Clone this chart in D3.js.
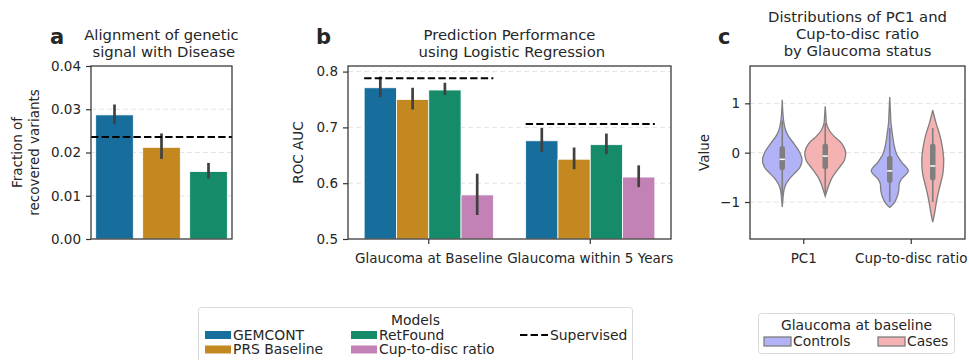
<!DOCTYPE html>
<meta charset="utf-8">
<style>
body { margin: 0; background: #fff; }
svg { font-family: "DejaVu Sans", sans-serif; }
.tick text { fill: #262626; font-size: 13.5px; font-family: "DejaVu Sans", sans-serif; }
.tick line { stroke: #333; stroke-width: 1.2; }
.domain { display: none; }
</style>
<svg width="969" height="360"></svg>
<script src="https://cdn.jsdelivr.net/npm/d3@7"></script>
<script>

// ---- data ----
var models = ["GEMCONT", "PRS Baseline", "RetFound", "Cup-to-disc ratio"];
var modelColors = ["#176e9c", "#c38820", "#168b6a", "#c282b6"];

// panel a: fraction of recovered variants
var alignModels = ["GEMCONT", "PRS Baseline", "RetFound"];
var alignValues = [0.0287, 0.0212, 0.0156];
var alignLow = [0.0265, 0.0185, 0.0140];
var alignHigh = [0.0311, 0.0244, 0.0176];
var alignSupervised = 0.0236;

// panel b: ROC AUC
var tasks = ["Glaucoma at Baseline", "Glaucoma within 5 Years"];
var aucValues = [[0.771, 0.750, 0.767, 0.579], [0.676, 0.643, 0.669, 0.611]];
var aucLow = [[0.754, 0.732, 0.758, 0.543], [0.656, 0.625, 0.652, 0.593]];
var aucHigh = [[0.791, 0.771, 0.780, 0.617], [0.699, 0.664, 0.689, 0.632]];
var aucSupervised = [0.788, 0.706];

// panel c: violin profiles [value, relative density]
var features = ["PC1", "Cup-to-disc ratio"];
var groups = ["Controls", "Cases"];
var groupColors = ["#b2b2f6", "#f4b2b2"];
var violinProfiles = [
  [ // PC1
    [[1.07, 0], [0.8, 0.03], [0.6, 0.08], [0.45, 0.16], [0.32, 0.31], [0.18, 0.55], [0.0, 0.82], [-0.15, 0.92],
     [-0.3, 0.82], [-0.43, 0.55], [-0.55, 0.3], [-0.65, 0.16], [-0.76, 0.08], [-0.9, 0.04], [-1.1, 0]],
    [[0.94, 0], [0.75, 0.03], [0.59, 0.06], [0.45, 0.19], [0.32, 0.44], [0.18, 0.78], [0.01, 0.95], [-0.155, 0.89],
     [-0.36, 0.55], [-0.49, 0.34], [-0.63, 0.19], [-0.76, 0.09], [-0.885, 0]]
  ],
  [ // Cup-to-disc ratio
    [[1.13, 0], [0.85, 0.03], [0.59, 0.06], [0.385, 0.12], [0.18, 0.19], [-0.02, 0.31], [-0.19, 0.55], [-0.37, 0.86],
     [-0.53, 0.55], [-0.63, 0.44], [-0.76, 0.42], [-0.9, 0.34], [-1.03, 0.19], [-1.11, 0]],
    [[0.86, 0], [0.59, 0.16], [0.385, 0.31], [0.18, 0.42], [-0.02, 0.49], [-0.19, 0.51], [-0.43, 0.47],
     [-0.63, 0.36], [-0.83, 0.25], [-1.03, 0.16], [-1.24, 0.08], [-1.41, 0]]
  ]
];
// box stats [whiskerLow, q1, median, q3, whiskerHigh]
var violinBoxes = [
  [[-0.87, -0.30, -0.135, 0.08, 0.65], [-0.85, -0.28, -0.07, 0.13, 0.6]],
  [[-1.0, -0.56, -0.37, -0.12, 0.5], [-1.0, -0.51, -0.27, 0.13, 0.5]]
];

var svg = d3.select("svg");
var plotTop = 66, plotBottom = 239;
var gridColor = "#e3e3e3", frameColor = "#333";

function frame(x0, x1) {
  svg.append("rect").attr("x", x0).attr("y", plotTop).attr("width", x1 - x0).attr("height", plotBottom - plotTop)
    .attr("fill", "none").attr("stroke", frameColor).attr("stroke-width", 1.25);
}
function grid(y, ticks, x0, x1) {
  svg.append("g").selectAll("line").data(ticks).enter().append("line")
    .attr("x1", x0).attr("x2", x1).attr("y1", y).attr("y2", y)
    .attr("stroke", gridColor).attr("stroke-dasharray", "5,3");
}
function yAxis(x0, y, ticks, fmt) {
  svg.append("g").attr("transform", "translate(" + x0 + ",0)")
    .call(d3.axisLeft(y).tickValues(ticks).tickFormat(fmt).tickSize(5).tickPadding(5).tickSizeOuter(0));
}
function xAxis(x) {
  svg.append("g").attr("transform", "translate(0," + plotBottom + ")")
    .call(d3.axisBottom(x).tickSize(5).tickPadding(9).tickSizeOuter(0));
}
function title(lines, cx, y0) {
  var t = svg.append("text").attr("text-anchor", "middle").attr("font-size", 14.8).attr("fill", "#262626");
  lines.forEach(function(l, i) {
    t.append("tspan").attr("x", cx).attr("y", y0 + i * 17).text(l);
  });
}
function letter(s, x) {
  svg.append("text").attr("x", x).attr("y", 44).attr("font-size", 21).attr("font-weight", "bold")
    .attr("fill", "#262626").text(s);
}
function ylabel(lines, x, cy) {
  var t = svg.append("text").attr("transform", "translate(" + x + "," + cy + ") rotate(-90)")
    .attr("text-anchor", "middle").attr("font-size", 13.5).attr("fill", "#262626");
  lines.forEach(function(l, i) {
    t.append("tspan").attr("x", 0).attr("y", i * 17).text(l);
  });
}

// ================= panel a =================
var ax0 = 91, ax1 = 232;
var xa = d3.scaleBand().domain(alignModels).range([ax0, ax1]).paddingInner(0.2).paddingOuter(0.1);
var ya = d3.scaleLinear().domain([0, 0.04]).range([plotBottom, plotTop]);
grid(ya, [0.01, 0.02, 0.03], ax0, ax1);

svg.append("g").selectAll("rect").data(alignModels).enter().append("rect")
  .attr("x", function(d) { return xa(d); })
  .attr("y", function(d, i) { return ya(alignValues[i]); })
  .attr("width", xa.bandwidth())
  .attr("height", function(d, i) { return ya(0) - ya(alignValues[i]); })
  .attr("fill", function(d, i) { return modelColors[i]; })
  .attr("stroke", "#fff").attr("stroke-width", 0.8);

svg.append("g").selectAll("line").data(alignModels).enter().append("line")
  .attr("x1", function(d) { return xa(d) + xa.bandwidth() / 2; })
  .attr("x2", function(d) { return xa(d) + xa.bandwidth() / 2; })
  .attr("y1", function(d, i) { return ya(alignLow[i]); })
  .attr("y2", function(d, i) { return ya(alignHigh[i]); })
  .attr("stroke", "#404040").attr("stroke-width", 2.7);

svg.append("line").attr("x1", ax0).attr("x2", ax1)
  .attr("y1", ya(alignSupervised)).attr("y2", ya(alignSupervised))
  .attr("stroke", "#000").attr("stroke-width", 2).attr("stroke-dasharray", "7.4,3.2");

frame(ax0, ax1);
yAxis(ax0, ya, [0, 0.01, 0.02, 0.03, 0.04], d3.format(".2f"));
title(["Alignment of genetic", " signal with Disease"], (ax0 + ax1) / 2, 40);
letter("a", 50);
ylabel(["Fraction of", "recovered variants"], 21.5, (plotTop + plotBottom) / 2);

// ================= panel b =================
var bx0 = 348, bx1 = 671;
var xb = d3.scaleBand().domain(tasks).range([bx0, bx1]).paddingInner(0.2).paddingOuter(0.1);
var xb1 = d3.scaleBand().domain(models).range([0, xb.bandwidth()]);
var yb = d3.scaleLinear().domain([0.5, 0.81]).range([plotBottom, plotTop]);
grid(yb, [0.6, 0.7, 0.8], bx0, bx1);

var gb = svg.append("g").selectAll("g").data(tasks).enter().append("g")
  .attr("transform", function(d) { return "translate(" + xb(d) + ",0)"; });

gb.selectAll("rect")
  .data(function(d, ti) { return models.map(function(m, mi) { return {m: m, v: aucValues[ti][mi], c: modelColors[mi]}; }); })
  .enter().append("rect")
  .attr("x", function(d) { return xb1(d.m); })
  .attr("y", function(d) { return yb(d.v); })
  .attr("width", xb1.bandwidth())
  .attr("height", function(d) { return yb(0.5) - yb(d.v); })
  .attr("fill", function(d) { return d.c; })
  .attr("stroke", "#fff").attr("stroke-width", 0.8);

gb.selectAll("line.err")
  .data(function(d, ti) { return models.map(function(m, mi) { return {m: m, lo: aucLow[ti][mi], hi: aucHigh[ti][mi]}; }); })
  .enter().append("line").attr("class", "err")
  .attr("x1", function(d) { return xb1(d.m) + xb1.bandwidth() / 2; })
  .attr("x2", function(d) { return xb1(d.m) + xb1.bandwidth() / 2; })
  .attr("y1", function(d) { return yb(d.lo); })
  .attr("y2", function(d) { return yb(d.hi); })
  .attr("stroke", "#404040").attr("stroke-width", 2.7);

gb.append("line")
  .attr("x1", 0).attr("x2", xb.bandwidth())
  .attr("y1", function(d, i) { return yb(aucSupervised[i]); })
  .attr("y2", function(d, i) { return yb(aucSupervised[i]); })
  .attr("stroke", "#000").attr("stroke-width", 2).attr("stroke-dasharray", "7.4,3.2");

frame(bx0, bx1);
yAxis(bx0, yb, [0.5, 0.6, 0.7, 0.8], d3.format(".1f"));
xAxis(xb);
title(["Prediction Performance", " using Logistic Regression"], (bx0 + bx1) / 2, 40);
letter("b", 316);
ylabel(["ROC AUC"], 302.5, (plotTop + plotBottom) / 2);

// ================= panel c =================
var cx0 = 750, cx1 = 965;
var xc = d3.scaleBand().domain(features).range([cx0, cx1]).paddingInner(0.2).paddingOuter(0.1);
var xc1 = d3.scaleBand().domain(groups).range([0, xc.bandwidth()]);
var yc = d3.scaleLinear().domain([-1.75, 1.757]).range([plotBottom, plotTop]);
var halfW = d3.scaleLinear().domain([0, 1]).range([0, xc1.bandwidth() / 2]);
grid(yc, [-1, 0, 1], cx0, cx1);

features.forEach(function(f, fi) {
  groups.forEach(function(gname, gi) {
    var cx = xc(f) + xc1(gname) + xc1.bandwidth() / 2;
    var area = d3.area()
      .y(function(d) { return yc(d[0]); })
      .x0(function(d) { return cx - halfW(d[1]); })
      .x1(function(d) { return cx + halfW(d[1]); })
      .curve(d3.curveCatmullRom.alpha(0.5));
    svg.append("path").datum(violinProfiles[fi][gi]).attr("d", area)
      .attr("fill", groupColors[gi]).attr("stroke", "#7f7f7f").attr("stroke-width", 1.3);
    var b = violinBoxes[fi][gi];
    svg.append("line").attr("x1", cx).attr("x2", cx).attr("y1", yc(b[0])).attr("y2", yc(b[4]))
      .attr("stroke", "#7f7f7f").attr("stroke-width", 1.6);
    svg.append("line").attr("x1", cx).attr("x2", cx).attr("y1", yc(b[1])).attr("y2", yc(b[3]))
      .attr("stroke", "#7f7f7f").attr("stroke-width", 5.5).attr("stroke-linecap", "round");
    svg.append("line").attr("x1", cx - 2.6).attr("x2", cx + 2.6).attr("y1", yc(b[2])).attr("y2", yc(b[2]))
      .attr("stroke", "#fff").attr("stroke-width", 1.5);
  });
});

frame(cx0, cx1);
yAxis(cx0, yc, [-1, 0, 1], d3.format("d"));
xAxis(xc);
title(["Distributions of PC1 and", "Cup-to-disc ratio", "by Glaucoma status"], (cx0 + cx1) / 2, 22);
letter("c", 718);
ylabel(["Value"], 708.5, (plotTop + plotBottom) / 2);

// ================= legends =================
var lg = svg.append("g").attr("font-size", 13.9).attr("fill", "#262626");
lg.append("rect").attr("x", 198.5).attr("y", 307.5).attr("width", 434).attr("height", 70).attr("rx", 3)
  .attr("fill", "#fff").attr("stroke", "#d9d9d9");
lg.append("text").attr("x", 415.5).attr("y", 325).attr("text-anchor", "middle").text("Models");
var legPos = [[205, 335], [205, 349.5], [351, 335], [351, 349.5]];
models.forEach(function(m, i) {
  lg.append("rect").attr("x", legPos[i][0]).attr("y", legPos[i][1] - 4).attr("width", 26).attr("height", 8)
    .attr("fill", modelColors[i]);
  lg.append("text").attr("x", legPos[i][0] + 28).attr("y", legPos[i][1] + 4.5).text(m);
});
lg.append("line").attr("x1", 520).attr("x2", 548).attr("y1", 335).attr("y2", 335)
  .attr("stroke", "#000").attr("stroke-width", 2).attr("stroke-dasharray", "7.4,3.2");
lg.append("text").attr("x", 550).attr("y", 339.5).text("Supervised");

var lc = svg.append("g").attr("font-size", 13.9).attr("fill", "#262626");
lc.append("rect").attr("x", 758.5).attr("y", 313.5).attr("width", 196).attr("height", 40).attr("rx", 3)
  .attr("fill", "#fff").attr("stroke", "#d9d9d9");
lc.append("text").attr("x", 856.5).attr("y", 330).attr("text-anchor", "middle").text("Glaucoma at baseline");
var lcX = [764, 878];
groups.forEach(function(gname, i) {
  lc.append("rect").attr("x", lcX[i]).attr("y", 337).attr("width", 27).attr("height", 9)
    .attr("fill", groupColors[i]).attr("stroke", "#7f7f7f").attr("stroke-width", 1.3);
  lc.append("text").attr("x", lcX[i] + 29).attr("y", 346).text(gname);
});

</script>
